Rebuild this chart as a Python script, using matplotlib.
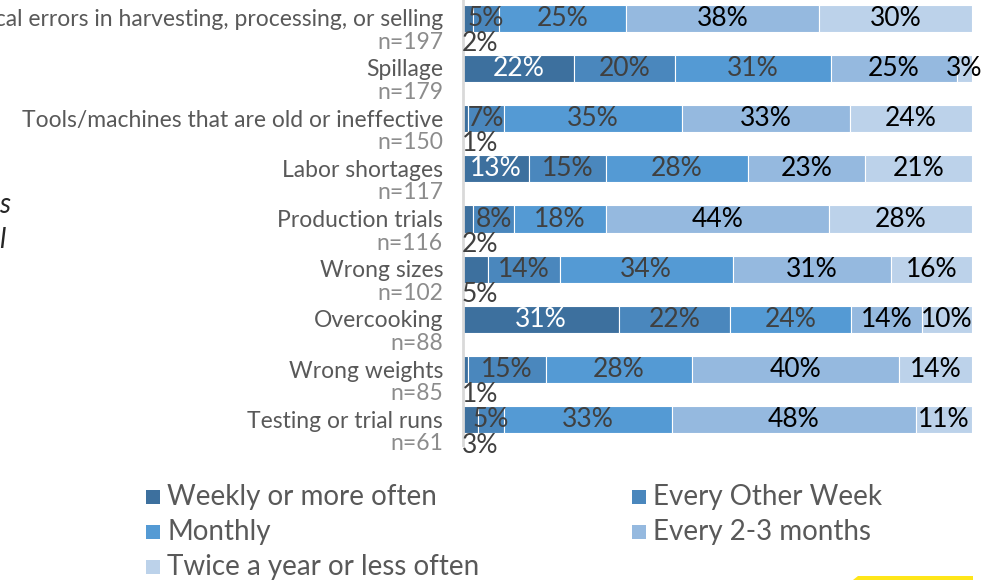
import matplotlib
matplotlib.use("Agg")
import matplotlib.pyplot as plt
from matplotlib.patches import Rectangle, Polygon
import numpy as np

plt.rcParams['font.family'] = ['Lato', 'DejaVu Sans']
plt.rcParams['font.weight'] = 'normal'

# ---- data -------------------------------------------------------------
categories = [
    "Physical errors in harvesting, processing, or selling",
    "Spillage",
    "Tools/machines that are old or ineffective",
    "Labor shortages",
    "Production trials",
    "Wrong sizes",
    "Overcooking",
    "Wrong weights",
    "Testing or trial runs",
]
n_values = [197, 179, 150, 117, 116, 102, 88, 85, 61]

series_names = [
    "Weekly or more often",
    "Every Other Week",
    "Monthly",
    "Every 2-3 months",
    "Twice a year or less often",
]
weekly = [2, 22, 1, 13, 2, 5, 31, 1, 3]
every_other_week = [5, 20, 7, 15, 8, 14, 22, 15, 5]
monthly = [25, 31, 35, 28, 18, 34, 24, 28, 33]
every_2_3_months = [38, 25, 33, 23, 44, 31, 14, 40, 48]
twice_a_year = [30, 3, 24, 21, 28, 16, 10, 14, 11]

series_values = [weekly, every_other_week, monthly, every_2_3_months, twice_a_year]

# ---- styling ----------------------------------------------------------
colors = ["#3D709E", "#4A87BD", "#549AD4", "#95B9DF", "#BCD2EA"]
label_colors = ["white", "#404040", "#404040", "black", "black"]
pct_size = 19
name_size = 16.5
legend_size = 20

W, H = 998, 580
fig = plt.figure(figsize=(W / 100, H / 100), dpi=100)


def fx(px):
    return px / W


def fy(py):
    return 1 - py / H


ax_left, ax_right, ax_top, ax_bottom = 463, 972, -7, 445
ax = fig.add_axes([fx(ax_left), fy(ax_bottom), (ax_right - ax_left) / W,
                   (ax_bottom - ax_top) / H])

vals = np.array(series_values, dtype=float)          # shape (5, 9)
totals = vals.sum(axis=0)
shares = vals / totals * 100                          # 100% stacked
ypos = np.arange(len(categories))

left = np.zeros(len(categories))
for k in range(len(series_names)):
    ax.barh(ypos, shares[k], left=left, height=0.54, color=colors[k],
            edgecolor="white", linewidth=0.8)
    for i in ypos:
        v = series_values[k][i]
        cx = left[i] + shares[k][i] / 2
        if k == 0 and v < 10:
            ax.text(-0.3, i + 0.5, f"{v}%", ha="left", va="center",
                    fontsize=pct_size, color="#404040")
        else:
            ax.text(cx, i, f"{v}%", ha="center", va="center",
                    fontsize=pct_size, color=label_colors[k])
    left += shares[k]

ax.set_xlim(0, 100)
ax.set_ylim(len(categories) - 0.5, -0.5)
ax.set_xticks([])
ax.set_yticks([])
for s in ["top", "right", "bottom"]:
    ax.spines[s].set_visible(False)
ax.spines["left"].set_color("#D9D9D9")
ax.spines["left"].set_linewidth(2)

# category names and sample sizes to the left of the bars
name_x = -(ax_left - 443) / (ax_right - ax_left) * 100
for i, (name, n) in enumerate(zip(categories, n_values)):
    ax.text(name_x, i + 0.03, name, ha="right", va="center",
            fontsize=name_size, color="#595959")
    ax.text(name_x, i + 0.48, f"n={n}", ha="right", va="center",
            fontsize=name_size, color="#8C8C8C")

# fragments of side text at the left edge
fig.text(fx(-1), fy(205), "s", style="italic", fontsize=20, color="#262626",
         va="center", ha="left")
fig.text(fx(-1), fy(240), "l", style="italic", fontsize=20, color="#262626",
         va="center", ha="left")

# legend (two columns, filled row by row)
legend_slots = [(146, 497), (632, 497), (146, 532), (632, 532), (146, 567)]
for k, (px, py) in enumerate(legend_slots):
    fig.patches.append(Rectangle((fx(px), fy(py + 7)), 14 / W, 14 / H,
                                 transform=fig.transFigure,
                                 facecolor=colors[k], edgecolor="none"))
    fig.text(fx(px + 21), fy(py), series_names[k], fontsize=legend_size,
             color="#595959", ha="left", va="center")

# yellow tab at the bottom edge
fig.patches.append(Polygon([(fx(853), fy(580)), (fx(858), fy(576)),
                            (fx(973), fy(576)), (fx(973), fy(580))],
                           closed=True, transform=fig.transFigure,
                           facecolor="#FFE619", edgecolor="none"))

fig.savefig("out.png", dpi=100)
